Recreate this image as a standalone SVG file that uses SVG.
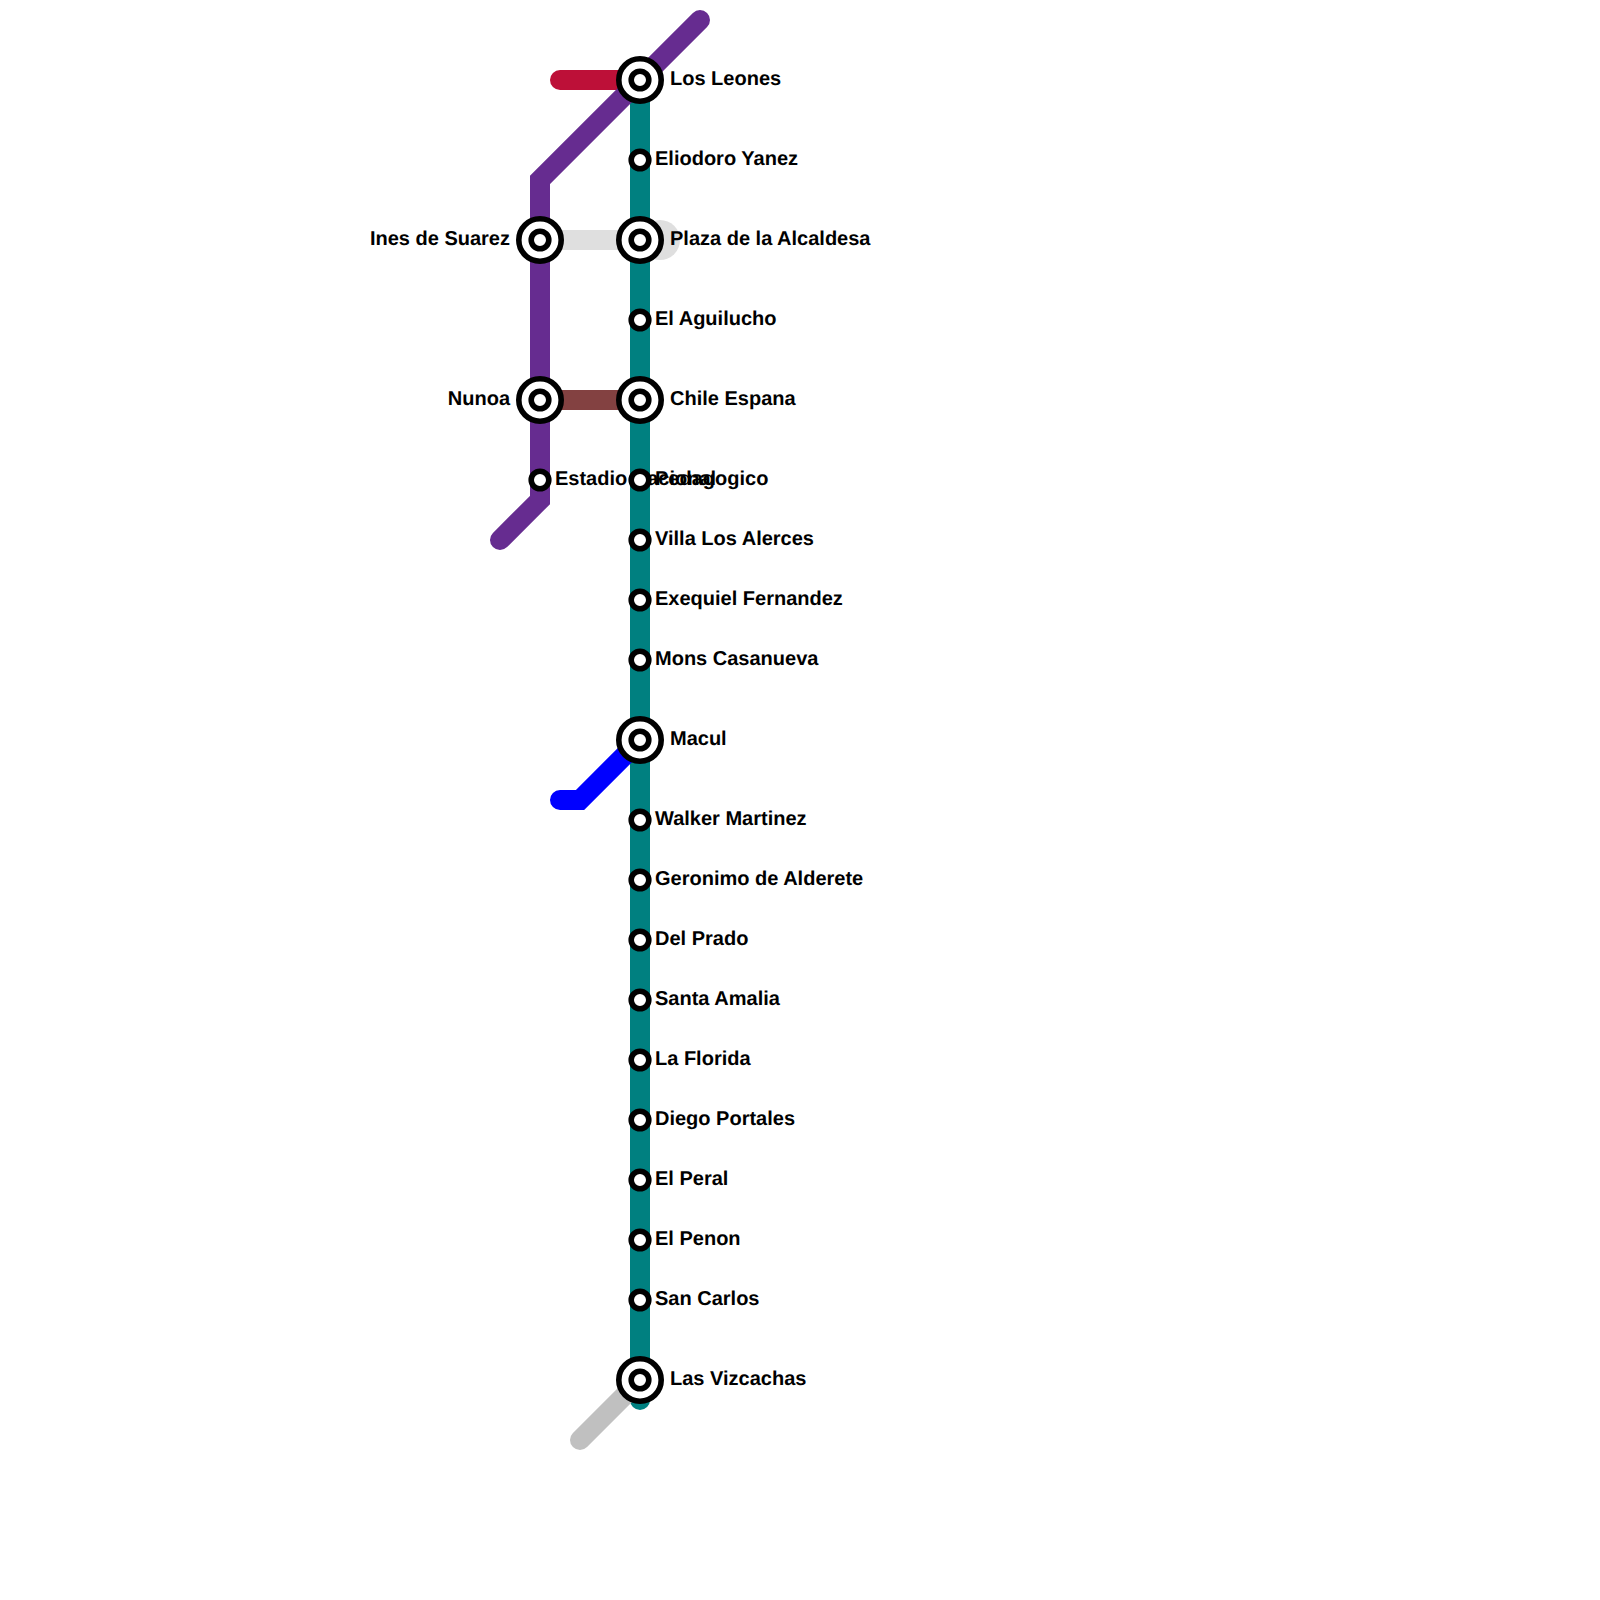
<svg xmlns="http://www.w3.org/2000/svg" width="1600" height="1600" viewBox="0 0 1600 1600">
<style>
.l{fill:none;stroke-width:20;stroke-linecap:round;stroke-linejoin:miter}
.o{fill:#fff;stroke:#000;stroke-width:5.6}
.i{fill:#fff;stroke:#000;stroke-width:5.6}
text{font-family:"Liberation Sans",Arial,sans-serif;font-weight:700;font-size:20px;fill:#000;text-rendering:geometricPrecision}
.e{text-anchor:end}
</style>
<defs>
<g id="big"><circle class="o" r="21.2"/><circle class="i" r="8.8"/></g>
<circle id="small" class="i" r="8.8"/>
</defs>
<g id="connectors">
<path class="l" stroke="#dfdfdf" d="M540 240H660"/>
<path class="l" stroke="#dfdfdf" style="stroke-width:40" d="M660 240H660"/>
<path class="l" stroke="#bd1038" d="M560 80H640"/>
<path class="l" stroke="#008080" d="M640 80V1400"/>
<path class="l" stroke="#662c90" d="M700 20L540 180V500L500 540"/>
<path class="l" stroke="#834141" d="M540 400H640"/>
<path class="l" stroke="#0000ff" d="M560 800H580L640 740"/>
<path class="l" stroke="#c0c0c0" d="M580 1440L640 1380"/>
</g>
<g id="ines-de-suarez"><use href="#big" x="540" y="240"/><text class="e" x="510" y="245">Ines de Suarez</text></g>
<g id="nunoa"><use href="#big" x="540" y="400"/><text class="e" x="510" y="405">Nunoa</text></g>
<g id="estadio-nacional"><use href="#small" x="540" y="480"/><text x="555" y="485">Estadio Nacional</text></g>
<g id="los-leones"><use href="#big" x="640" y="80"/><text x="670" y="85">Los Leones</text></g>
<g id="eliodoro-yanez"><use href="#small" x="640" y="160"/><text x="655" y="165">Eliodoro Yanez</text></g>
<g id="plaza-de-la-alcaldesa"><use href="#big" x="640" y="240"/><text x="670" y="245">Plaza de la Alcaldesa</text></g>
<g id="el-aguilucho"><use href="#small" x="640" y="320"/><text x="655" y="325">El Aguilucho</text></g>
<g id="chile-espana"><use href="#big" x="640" y="400"/><text x="670" y="405">Chile Espana</text></g>
<g id="pedagogico"><use href="#small" x="640" y="480"/><text x="655" y="485">Pedagogico</text></g>
<g id="villa-los-alerces"><use href="#small" x="640" y="540"/><text x="655" y="545">Villa Los Alerces</text></g>
<g id="exequiel-fernandez"><use href="#small" x="640" y="600"/><text x="655" y="605">Exequiel Fernandez</text></g>
<g id="mons-casanueva"><use href="#small" x="640" y="660"/><text x="655" y="665">Mons Casanueva</text></g>
<g id="macul"><use href="#big" x="640" y="740"/><text x="670" y="745">Macul</text></g>
<g id="walker-martinez"><use href="#small" x="640" y="820"/><text x="655" y="825">Walker Martinez</text></g>
<g id="geronimo-de-alderete"><use href="#small" x="640" y="880"/><text x="655" y="885">Geronimo de Alderete</text></g>
<g id="del-prado"><use href="#small" x="640" y="940"/><text x="655" y="945">Del Prado</text></g>
<g id="santa-amalia"><use href="#small" x="640" y="1000"/><text x="655" y="1005">Santa Amalia</text></g>
<g id="la-florida"><use href="#small" x="640" y="1060"/><text x="655" y="1065">La Florida</text></g>
<g id="diego-portales"><use href="#small" x="640" y="1120"/><text x="655" y="1125">Diego Portales</text></g>
<g id="el-peral"><use href="#small" x="640" y="1180"/><text x="655" y="1185">El Peral</text></g>
<g id="el-penon"><use href="#small" x="640" y="1240"/><text x="655" y="1245">El Penon</text></g>
<g id="san-carlos"><use href="#small" x="640" y="1300"/><text x="655" y="1305">San Carlos</text></g>
<g id="las-vizcachas"><use href="#big" x="640" y="1380"/><text x="670" y="1385">Las Vizcachas</text></g>
</svg>
